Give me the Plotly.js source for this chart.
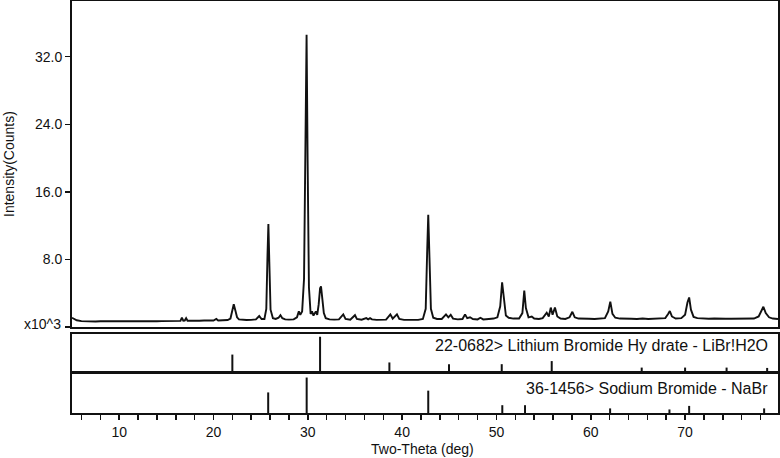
<!DOCTYPE html>
<html>
<head>
<meta charset="utf-8">
<script src="https://cdn.plot.ly/plotly-3.0.1.min.js"></script>
<style>
    body { margin: 0; background: #ffffff; }
    #chart { width: 780px; height: 458px; }
</style>
</head>
<body>
<div id="chart"></div>
<script>
// Measured pattern, intensity in thousands of counts
const twoTheta = [
    5.0, 5.2, 5.5, 6.0, 6.5, 7.0, 7.5, 8.0, 8.5, 9.0, 9.5, 10.0, 10.5, 11.0, 11.5, 12.0,
    12.5, 13.0, 13.5, 14.0, 14.5, 15.0, 15.5, 16.0, 16.5, 16.65, 16.8, 16.95, 17.1, 17.25,
    17.6, 18.0, 18.5, 19.0, 19.5, 20.0, 20.3, 20.5, 21.0, 21.5, 21.8, 22.0, 22.15, 22.3,
    22.5, 22.7, 23.0, 23.5, 24.0, 24.5, 24.85, 25.1, 25.4, 25.6, 25.72, 25.82, 25.92, 26.05,
    26.3, 26.6, 26.9, 27.1, 27.3, 27.6, 28.0, 28.5, 28.85, 29.05, 29.2, 29.4, 29.6, 29.75,
    29.87, 29.98, 30.12, 30.3, 30.45, 30.6, 30.85, 31.0, 31.15, 31.3, 31.4, 31.55, 31.7,
    31.9, 32.3, 32.8, 33.3, 33.76, 34.0, 34.5, 35.0, 35.2, 35.7, 36.2, 36.4, 36.6, 36.8,
    37.3, 37.8, 38.3, 38.75, 39.0, 39.45, 39.7, 40.2, 40.7, 41.2, 41.7, 42.2, 42.5, 42.65,
    42.77, 42.9, 43.05, 43.3, 43.7, 44.2, 44.65, 44.9, 45.15, 45.4, 45.9, 46.4, 46.67, 46.9,
    47.2, 47.5, 48.0, 48.3, 48.6, 49.2, 49.7, 50.1, 50.4, 50.6, 50.78, 51.0, 51.3, 51.8,
    52.4, 52.75, 52.95, 53.12, 53.4, 53.74, 54.0, 54.5, 54.9, 55.33, 55.55, 55.76, 55.95,
    56.2, 56.45, 56.8, 57.3, 57.75, 58.05, 58.3, 58.7, 59.2, 59.8, 60.4, 61.0, 61.5, 61.85,
    62.07, 62.3, 62.6, 63.1, 63.7, 64.3, 64.9, 65.5, 66.1, 66.7, 67.3, 67.9, 68.2, 68.38,
    68.6, 69.0, 69.6, 70.0, 70.25, 70.43, 70.62, 70.9, 71.3, 71.9, 72.5, 73.1, 73.7, 74.3,
    74.9, 75.5, 76.1, 76.7, 77.3, 77.8, 78.1, 78.3, 78.55, 78.9, 79.3, 79.85
];
const counts = [
    1.1, 1.0, 0.8, 0.7, 0.67, 0.69, 0.66, 0.68, 0.67, 0.69, 0.66, 0.68, 0.67, 0.69, 0.67, 0.68,
    0.7, 0.67, 0.69, 0.68, 0.7, 0.69, 0.71, 0.7, 0.73, 1.1, 0.75, 0.77, 1.05, 0.75,
    0.73, 0.75, 0.74, 0.77, 0.75, 0.77, 0.95, 0.77, 0.8, 0.83, 1.0, 1.85, 2.7, 2.05,
    1.15, 0.9, 0.85, 0.83, 0.85, 0.9, 1.3, 0.95, 0.95, 2.15, 8.2, 12.2, 7.7, 2.05,
    1.05, 0.95, 1.1, 1.4, 1.05, 0.9, 0.87, 0.9, 1.15, 1.85, 1.45, 1.85, 5.7, 21.7,
    34.6, 19.7, 4.7, 1.55, 1.85, 1.35, 1.85, 1.45, 2.65, 4.6, 4.8, 3.25, 1.65,
    1.05, 0.9, 0.87, 0.9, 1.5, 0.95, 0.87, 1.4, 0.95, 0.87, 1.05, 0.9, 1.05, 0.9,
    0.85, 0.85, 0.87, 1.5, 1.0, 1.5, 0.95, 0.85, 0.85, 0.87, 0.85, 0.95, 2.15, 8.7,
    13.3, 8.2, 2.15, 1.1, 0.95, 0.95, 1.5, 1.15, 1.45, 1.0, 0.9, 0.95, 1.5, 1.05,
    1.15, 0.95, 0.9, 1.1, 0.9, 0.95, 1.0, 1.15, 2.45, 5.3, 3.25, 1.35, 1.1, 1.0,
    1.0, 1.65, 4.3, 2.25, 1.15, 1.25, 1.0, 0.95, 1.05, 1.7, 1.25, 2.3, 1.45,
    2.3, 1.25, 1.0, 0.95, 1.15, 1.8, 1.15, 1.0, 0.95, 0.97, 0.95, 0.98, 1.05, 1.85,
    3.0, 1.55, 1.1, 1.0, 0.95, 0.97, 0.95, 1.0, 0.95, 0.97, 0.95, 1.05, 1.55, 1.9,
    1.25, 1.0, 1.05, 1.45, 2.9, 3.5, 2.05, 1.2, 1.05, 1.0, 0.98, 1.0, 0.95, 0.98,
    0.97, 1.0, 0.98, 0.99, 1.0, 1.25, 1.95, 2.4, 1.65, 1.15, 1.0, 0.95
];

// Reference card 22-0682 (LiBr.H2O), relative intensity
const libPos = [22.0, 31.3, 38.65, 44.97, 50.56, 55.86, 65.4, 70.0, 74.4, 78.7];
const libInt = [48, 100, 25, 20, 20, 29, 10, 10, 10, 9];

// Reference card 36-1456 (NaBr), relative intensity
const nabrPos = [25.8, 29.88, 42.77, 50.62, 53.03, 62.05, 68.34, 70.43, 78.38];
const nabrInt = [58, 100, 63, 22, 22, 13, 10, 20, 13];

const xTickLabels = ['10', '20', '30', '40', '50', '60', '70'];
const yTickVals = [0, 8, 16, 24, 32];
const yTickText = ['', '8.0', '16.0', '24.0', '32.0'];

const FONT = 'Liberation Sans, Arial, sans-serif';
const INK = '#111111';
const X_RANGE = [5, 79.85];

// Turn positions + heights into vertical line segments
function stickSegments(pos, ints) {
    const xs = [];
    const ys = [];
    pos.forEach((p, i) => {
        xs.push(p, p, null);
        ys.push(0, ints[i], null);
    });
    return { xs, ys };
}

function frameAxis(extra) {
    return Object.assign({
        range: X_RANGE,
        showline: true,
        mirror: true,
        linewidth: 2,
        linecolor: INK,
        showgrid: false,
        zeroline: false,
        ticks: '',
        showticklabels: false,
        fixedrange: true
    }, extra);
}

function drawChart() {
    const li = stickSegments(libPos, libInt);
    const na = stickSegments(nabrPos, nabrInt);

    const traces = [
        {
            x: twoTheta, y: counts, type: 'scatter', mode: 'lines',
            line: { color: INK, width: 1.9 }, xaxis: 'x', yaxis: 'y', hoverinfo: 'skip'
        },
        {
            x: li.xs, y: li.ys, type: 'scatter', mode: 'lines',
            line: { color: INK, width: 2 }, xaxis: 'x2', yaxis: 'y2', connectgaps: false
        },
        {
            x: na.xs, y: na.ys, type: 'scatter', mode: 'lines',
            line: { color: INK, width: 2 }, xaxis: 'x3', yaxis: 'y3', connectgaps: false
        }
    ];

    const layout = {
        width: 780,
        height: 458,
        margin: { l: 72, r: 2, t: 1, b: 45 },
        paper_bgcolor: '#ffffff',
        plot_bgcolor: '#ffffff',
        showlegend: false,
        font: { family: FONT, color: INK, size: 14 },

        xaxis: frameAxis({ anchor: 'y' }),
        xaxis2: frameAxis({ anchor: 'y2' }),
        xaxis3: frameAxis({
            anchor: 'y3',
            ticks: 'outside',
            ticklen: 5,
            tickwidth: 1.5,
            tickcolor: INK,
            tickvals: [10, 20, 30, 40, 50, 60, 70],
            ticktext: xTickLabels,
            showticklabels: true,
            tickfont: { size: 14 },
            minor: { dtick: 2, tick0: 0, ticks: 'outside', ticklen: 5, tickwidth: 1.5, tickcolor: INK }
        }),

        yaxis: {
            domain: [0.2087, 1],
            range: [0, 38.6],
            showline: true, mirror: true, linewidth: 2, linecolor: INK,
            showgrid: false, zeroline: false,
            ticks: 'outside', ticklen: 5, tickwidth: 1.5, tickcolor: INK,
            tickvals: yTickVals, ticktext: yTickText,
            tickfont: { size: 14 },
            fixedrange: true
        },
        yaxis2: {
            domain: [0.1019, 0.1917],
            range: [0, 108],
            showline: true, mirror: true, linewidth: 2, linecolor: INK,
            showgrid: false, zeroline: false, ticks: '', showticklabels: false,
            fixedrange: true
        },
        yaxis3: {
            domain: [0, 0.0947],
            range: [0, 110],
            showline: true, mirror: true, linewidth: 2, linecolor: INK,
            showgrid: false, zeroline: false, ticks: '', showticklabels: false,
            fixedrange: true
        },

        annotations: [
            {
                text: 'x10^3', xref: 'paper', yref: 'y', x: 0, y: 0.4,
                xanchor: 'right', yanchor: 'middle', xshift: -9, showarrow: false,
                font: { size: 14 }
            },
            {
                text: 'Intensity(Counts)', xref: 'paper', yref: 'y domain', x: 0, y: 0.5,
                xanchor: 'center', yanchor: 'middle', xshift: -63, textangle: -90,
                showarrow: false, font: { size: 14 }
            },
            {
                text: 'Two-Theta (deg)', xref: 'paper', yref: 'paper', x: 0.4958, y: 0,
                xanchor: 'center', yanchor: 'middle', yshift: -36, showarrow: false,
                font: { size: 14 }
            },
            {
                text: '22-0682> Lithium Bromide Hy drate - LiBr!H2O',
                xref: 'paper', yref: 'y2 domain', x: 0.9887, y: 0.68,
                xanchor: 'right', yanchor: 'middle', showarrow: false, font: { size: 16 }
            },
            {
                text: '36-1456> Sodium Bromide - NaBr',
                xref: 'paper', yref: 'y3 domain', x: 0.9887, y: 0.64,
                xanchor: 'right', yanchor: 'middle', showarrow: false, font: { size: 16 }
            }
        ]
    };

    Plotly.newPlot('chart', traces, layout, { displayModeBar: false, staticPlot: true });
}

document.addEventListener('DOMContentLoaded', drawChart);
</script>
</body>
</html>
